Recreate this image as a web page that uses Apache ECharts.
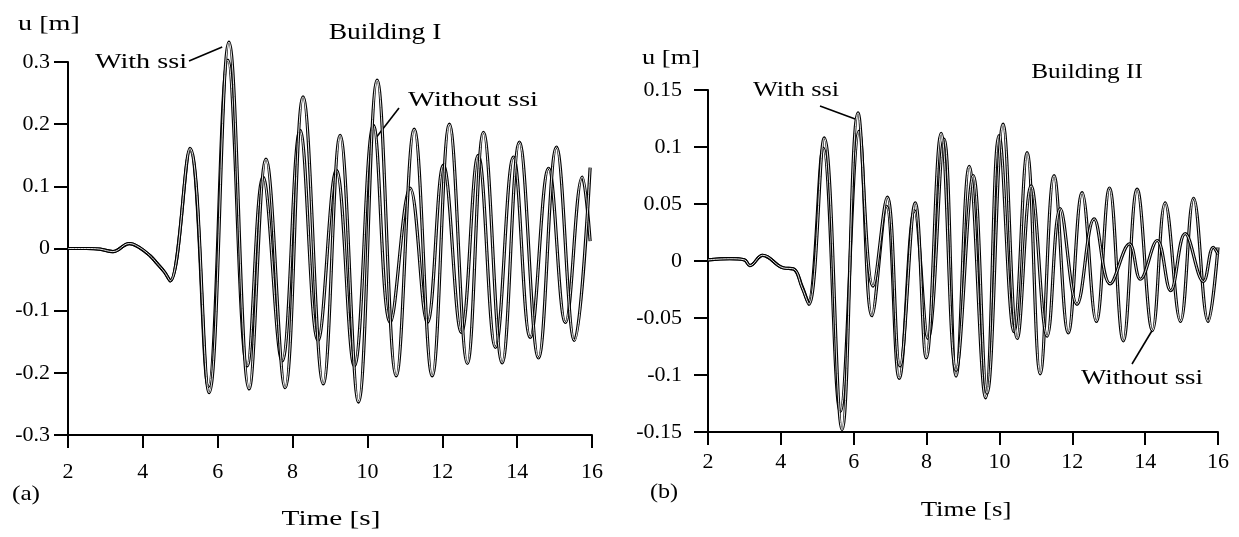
<!DOCTYPE html>
<html>
<head>
<meta charset="utf-8">
<script src="https://cdn.jsdelivr.net/npm/echarts@6/dist/echarts.min.js"></script>
<style>html,body{margin:0;padding:0;background:#fff;}#c{width:1239px;height:537px;}</style>
</head>
<body>
<div id="c"></div>
<script>
// ---------- Data (time [s], displacement u [m]) ----------
// Building I
const bldg1WithSsi = [
  [2.0,0.0],[2.5,0.0],[2.85,-0.001],[3.2,-0.005],[3.64,0.008],[3.9,0.002],[4.2,-0.012],[4.38,-0.024],[4.58,-0.038],[4.73,-0.052],
  [5.26,0.161],[5.77,-0.232],[6.30,0.332],[6.84,-0.226],[7.29,0.144],[7.80,-0.224],[8.28,0.244],[8.82,-0.218],
  [9.27,0.182],[9.76,-0.247],[10.26,0.271],[10.77,-0.205],[11.25,0.192],[11.73,-0.205],[12.19,0.200],[12.67,-0.185],
  [13.10,0.187],[13.60,-0.184],[14.06,0.171],[14.57,-0.176],[15.05,0.163],[15.53,-0.148],[15.95,0.130]
];
const bldg1WithoutSsi = [
  [2.0,0.0],[2.5,0.0],[2.85,-0.001],[3.2,-0.005],[3.64,0.008],[3.9,0.002],[4.2,-0.012],[4.38,-0.024],[4.58,-0.038],[4.73,-0.052],
  [5.26,0.158],[5.75,-0.222],[6.27,0.303],[6.79,-0.189],[7.21,0.115],[7.72,-0.181],[8.20,0.190],[8.68,-0.148],
  [9.17,0.126],[9.65,-0.189],[10.16,0.198],[10.61,-0.119],[11.14,0.097],[11.60,-0.119],[12.03,0.134],[12.51,-0.135],
  [12.96,0.150],[13.42,-0.159],[13.90,0.147],[14.35,-0.143],[14.84,0.129],[15.29,-0.119],[15.74,0.115],[15.95,0.012]
];
// Building II
const bldg2WithSsi = [
  [2.0,0.001],[2.6,0.002],[3.0,0.001],[3.15,-0.004],[3.5,0.005],[4.06,-0.006],[4.35,-0.007],[4.58,-0.023],[4.77,-0.038],
  [5.19,0.108],[5.68,-0.148],[6.12,0.130],[6.53,-0.022],[6.92,0.056],[7.27,-0.092],[7.69,0.051],[7.99,-0.085],
  [8.40,0.112],[8.81,-0.096],[9.28,0.075],[9.66,-0.116],[10.10,0.120],[10.49,-0.068],[10.87,0.066],[11.31,-0.066],
  [11.67,0.046],[12.13,-0.038],[12.60,0.037],[13.04,-0.020],[13.57,0.015],[13.87,-0.016],[14.33,0.018],[14.70,-0.026],
  [15.10,0.024],[15.60,-0.018],[15.87,0.012],[16.0,0.006]
];
const bldg2WithoutSsi = [
  [2.0,0.001],[2.6,0.002],[3.0,0.001],[3.15,-0.004],[3.5,0.005],[4.06,-0.006],[4.35,-0.007],[4.58,-0.022],[4.75,-0.036],
  [5.16,0.099],[5.63,-0.132],[6.15,0.114],[6.50,-0.048],[6.90,0.048],[7.25,-0.103],[7.67,0.044],[8.04,-0.068],
  [8.48,0.107],[8.81,-0.101],[9.17,0.083],[9.62,-0.120],[9.99,0.110],[10.40,-0.062],[10.76,0.095],[11.12,-0.099],
  [11.50,0.075],[11.89,-0.063],[12.27,0.060],[12.66,-0.053],[13.02,0.064],[13.40,-0.070],[13.78,0.063],[14.20,-0.061],
  [14.55,0.051],[14.97,-0.053],[15.33,0.055],[15.73,-0.053],[16.0,0.012]
];
// Axis ticks
const timeTicks = {min: 2, max: 16, interval: 2};
const uTicks1 = {min: -0.3, max: 0.3, interval: 0.1};
const uTicks2 = {min: -0.15, max: 0.15, interval: 0.05};
// Annotation anchors on the curves (data coords)
const anchorWith1 = [6.12, 0.324];
const anchorWithout1 = [10.24, 0.179];
const anchorWith2 = [6.04, 0.1246];
const anchorWithout2 = [14.2, -0.0605];

// ---------- Chart ----------
const FONT = 'Liberation Serif, Times New Roman, serif';
const chart = echarts.init(document.getElementById('c'), null, {renderer: 'canvas'});

function fmt(v){ const r = Math.round(v*100)/100; return r === 0 ? '0' : String(r); }

function xAxis(gridIndex, margin){
  return {
    type: 'value', gridIndex, min: timeTicks.min, max: timeTicks.max, interval: timeTicks.interval,
    axisLine: {show: true, onZero: false, lineStyle: {color: '#000', width: 2}},
    axisTick: {show: true, inside: false, length: 13, lineStyle: {color: '#000', width: 2}},
    axisLabel: {color: '#000', fontFamily: FONT, fontSize: 22, margin},
    splitLine: {show: false}
  };
}
function yAxis(gridIndex, t, margin){
  return {
    type: 'value', gridIndex, min: t.min, max: t.max, interval: t.interval,
    axisLine: {show: true, onZero: false, lineStyle: {color: '#000', width: 2}},
    axisTick: {show: true, inside: false, length: 14, lineStyle: {color: '#000', width: 2}},
    axisLabel: {color: '#000', fontFamily: FONT, fontSize: 22, margin, formatter: fmt},
    splitLine: {show: false}
  };
}
function hollow(data, idx){
  return [
    {type: 'line', xAxisIndex: idx, yAxisIndex: idx, data, showSymbol: false, smooth: 0.4, clip: false,
     lineStyle: {color: '#000', width: 3.2}, silent: true},
    {type: 'line', xAxisIndex: idx, yAxisIndex: idx, data, showSymbol: false, smooth: 0.4, clip: false,
     lineStyle: {color: '#fff', width: 0.9}, silent: true}
  ];
}

chart.setOption({
  animation: false,
  backgroundColor: '#fff',
  grid: [
    {left: 68, width: 524, top: 62, height: 373},
    {left: 708, width: 510, top: 90, height: 342}
  ],
  xAxis: [xAxis(0, 26), xAxis(1, 19)],
  yAxis: [yAxis(0, uTicks1, 18), yAxis(1, uTicks2, 26)],
  series: [
    ...hollow(bldg1WithoutSsi, 0), ...hollow(bldg1WithSsi, 0),
    ...hollow(bldg2WithoutSsi, 1), ...hollow(bldg2WithSsi, 1)
  ]
});

// Text in the reference is set with wide tracking; stretch horizontally to match.
function txt(text, x, y, size, sx){
  return {type: 'text', x, y, scaleX: sx || 1.28, scaleY: 1,
    style: {text, fill: '#000', font: size + 'px ' + FONT, textAlign: 'center', textVerticalAlign: 'middle'}};
}
function leader(from, gridIndex, anchor){
  const p = chart.convertToPixel({gridIndex}, anchor);
  return {type: 'line', shape: {x1: from[0], y1: from[1], x2: p[0], y2: p[1]}, style: {stroke: '#000', lineWidth: 1.6}};
}
chart.setOption({
  graphic: [
    txt('u [m]', 49, 24, 22),
    txt('Building I', 385, 33, 23, 1.2),
    txt('With ssi', 141, 62, 22),
    leader([189, 61], 0, anchorWith1),
    txt('Without ssi', 473, 100, 22, 1.3),
    leader([399, 108], 0, anchorWithout1),
    txt('(a)', 26, 494, 22, 1.15),
    txt('Time [s]', 331, 519, 22, 1.33),
    txt('u [m]', 671, 58, 22, 1.2),
    txt('Building II', 1087, 72, 22, 1.15),
    txt('With ssi', 796, 90, 22, 1.2),
    leader([820, 106], 1, anchorWith2),
    txt('Without ssi', 1142, 378, 22, 1.22),
    leader([1132, 364], 1, anchorWithout2),
    txt('(b)', 664, 492, 22, 1.1),
    txt('Time [s]', 966, 510, 22, 1.22)
  ]
});
</script>
</body>
</html>
